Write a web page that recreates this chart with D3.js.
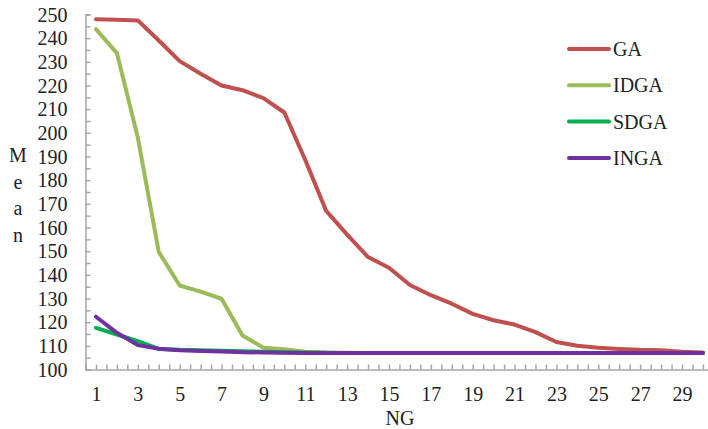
<!DOCTYPE html>
<html>
<head>
<meta charset="utf-8">
<script src="https://cdn.jsdelivr.net/npm/d3@7"></script>
<style>
  html, body { margin: 0; padding: 0; background: #fff; }
  svg { display: block; }
  svg text { font-family: "Liberation Serif", "Times New Roman", Times, serif !important; fill: #222; }
</style>
</head>
<body>
<svg id="chart" width="708" height="429"></svg>
<script>
const categories = d3.range(1, 31);
const seriesNames = ["GA", "IDGA", "SDGA", "INGA"];
const seriesColors = ["#C0504D", "#9BBB59", "#00B050", "#7030A0"];
const GA   = [248, 247.8, 247.5, 239, 230.3, 225, 220, 218, 214.7, 208.6, 188.5, 167, 157, 147.5, 143, 135.7, 131.4, 127.8, 123.5, 120.8, 119, 115.8, 111.6, 110, 109.2, 108.7, 108.3, 108.1, 107.5, 107.2];
const IDGA = [243.8, 233.7, 198, 149.7, 135.5, 132.9, 129.9, 114.4, 109.2, 108.6, 107.5, 107.2, 107.1, 107, 107, 107, 107, 107, 107, 107, 107, 107, 107, 107, 107, 107, 107, 107, 107, 107];
const SDGA = [117.6, 114.8, 112, 108.7, 108.3, 108.1, 107.9, 107.7, 107.5, 107.3, 107.2, 107.1, 107, 107, 107, 107, 107, 107, 107, 107, 107, 107, 107, 107, 107, 107, 107, 107, 107, 107];
const INGA = [122.3, 115.5, 110.3, 108.8, 108.1, 107.8, 107.6, 107.3, 107.2, 107.1, 107, 107, 107, 107, 107, 107, 107, 107, 107, 107, 107, 107, 107, 107, 107, 107, 107, 107, 107, 107];
const yTicks = d3.range(100, 251, 5);
const xTicks = d3.range(0.5, 30.51, 0.5);
const yTitle = ["M", "e", "a", "n"];
const xTitle = "NG";

const series = [GA, IDGA, SDGA, INGA];
const svg = d3.select("#chart");
const FS = 20;

const left = 85.5, step = 20.93;
const x = d3.scaleLinear().domain([0.5, 30.5]).range([left, left + 30 * step]);
const y = d3.scaleLinear().domain([100, 250]).range([369.5, 14.5]);

const axisColor = "#a6a6a6";

// Y axis
const yAxis = svg.append("g").attr("transform", `translate(${left},0)`)
  .call(d3.axisLeft(y).tickValues(yTicks).tickSize(-5).tickPadding(18)
    .tickFormat(d => d % 10 === 0 ? d : ""));
yAxis.attr("font-size", FS).attr("font-family", null);
yAxis.select(".domain").attr("stroke", axisColor).attr("stroke-width", 1.5);
yAxis.selectAll(".tick line").attr("stroke", axisColor).attr("stroke-width", 1.5);
yAxis.selectAll(".tick text").attr("fill", "#222").attr("dy", "0.34em");

// X axis
const xAxis = svg.append("g").attr("transform", `translate(0,${y(100)})`)
  .call(d3.axisBottom(x).tickValues(xTicks).tickSize(-5).tickPadding(17)
    .tickFormat(d => (Number.isInteger(d) && d % 2 === 1) ? d : ""));
xAxis.attr("font-size", FS).attr("font-family", null);
xAxis.select(".domain").attr("stroke", axisColor).attr("stroke-width", 1.5);
xAxis.selectAll(".tick line").attr("stroke", axisColor).attr("stroke-width", 1.5);
xAxis.selectAll(".tick text").attr("fill", "#222");

// Lines
const line = d3.line().x((d, i) => x(categories[i])).y(d => y(d));
series.forEach((s, k) => {
  svg.append("path").datum(s)
    .attr("fill", "none")
    .attr("stroke", seriesColors[k])
    .attr("stroke-width", 4)
    .attr("stroke-linejoin", "round")
    .attr("stroke-linecap", "round")
    .attr("d", line);
});

// Axis titles
svg.append("g").selectAll("text").data(yTitle).join("text")
  .attr("x", 18).attr("y", (d, i) => 162 + i * 26.5)
  .attr("text-anchor", "middle").attr("font-size", FS).text(d => d);
svg.append("text").attr("x", 400).attr("y", 425)
  .attr("text-anchor", "middle").attr("font-size", FS).text(xTitle);

// Legend
const lg = svg.append("g");
seriesNames.forEach((n, k) => {
  const ly = 49 + k * 36.3;
  lg.append("line").attr("x1", 569).attr("x2", 609).attr("y1", ly).attr("y2", ly)
    .attr("stroke", seriesColors[k]).attr("stroke-width", 4).attr("stroke-linecap", "round");
  lg.append("text").attr("x", 613).attr("y", ly + 7).attr("font-size", FS).text(n);
});
</script>
</body>
</html>
